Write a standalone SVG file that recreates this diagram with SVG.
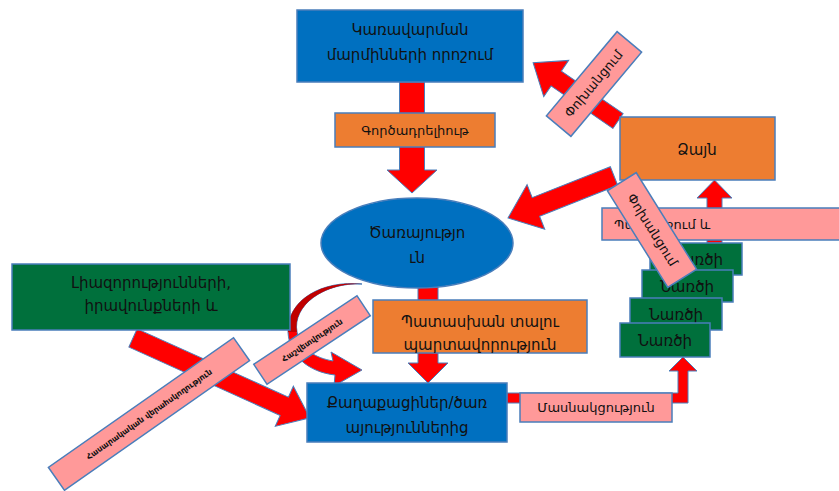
<svg xmlns="http://www.w3.org/2000/svg" width="839" height="491" viewBox="0 0 839 491">
<style>
.t{font-family:"DejaVu Sans","Noto Sans",sans-serif;font-size:15px;fill:#111;text-anchor:middle}
.s{font-size:13px}
.xs{font-size:8px;font-weight:bold}
.blue{fill:#0070C0;stroke:#4A7EBB;stroke-width:1.5}
.orange{fill:#ED7D31;stroke:#4A7EBB;stroke-width:1.5}
.green{fill:#00703C;stroke:#4A7EBB;stroke-width:1.5}
.pink{fill:#FF9999;stroke:#4A7EBB;stroke-width:1.5}
.arr{fill:#FF0000;stroke:#4A7EBB;stroke-width:1}
</style>
<rect width="839" height="491" fill="#fff"/>
<g id="connectors">
  <polygon class="arr" transform="translate(412,82) rotate(90)" points="0,-12.5 88,-12.5 88,-25 111,0 88,25 88,12.5 0,12.5"/>
  <polygon class="arr" transform="translate(614,176) rotate(158.4)" points="0,-10 84,-10 84,-24 114,0 84,24 84,10 0,10"/>
  <polygon class="arr" transform="translate(618,121) rotate(-145.5)" points="0,-9 75,-9 75,-22 103,0 75,22 75,9 0,9"/>
  <polygon class="arr" transform="translate(428,287) rotate(90)" points="0,-10 76,-10 76,-20 96,0 76,20 76,10 0,10"/>
  <polygon class="arr" transform="translate(133,338) rotate(24.3)" points="0,-10 166,-10 166,-22 194,0 166,22 166,10 0,10"/>
  <polygon class="arr" points="507,393 678,393 678,371 669,371 683,357 697,371 688,371 688,403 507,403"/>
  <polygon class="arr" points="707,243 707,198 697,198 714.5,180 732,198 722,198 722,243"/>
  <path d="M362,284 C325,282 292,305 297,332 C301,350 316,358 333,361 L331,352 L362,370 L334,386 L335,375 C308,372 289,355 288,332 C287,300 322,280 362,284 Z" fill="#FF0000" stroke="#4A7EBB" stroke-width="1"/>
  <path d="M362,284 C325,282 292,305 297,332 L288,332 C287,300 322,280 362,284 Z" fill="#C00000"/>
</g>
<g id="n-top">
  <rect class="blue" x="297" y="10" width="226" height="72"/>
  <text class="t" x="410" y="35">Կառավարման</text>
  <text class="t" x="410" y="60">մարմինների որոշում</text>
</g>
<g id="n-gorts">
  <rect class="orange" x="335" y="113" width="160" height="34"/>
  <text class="t s" x="415" y="135">Գործադրելիութ</text>
</g>
<g id="n-tsar">
  <ellipse class="blue" cx="417" cy="243" rx="96" ry="45"/>
  <text class="t" x="417" y="238">Ծառայությո</text>
  <text class="t" x="417" y="263">ւն</text>
</g>
<g id="n-dzayn">
  <rect class="orange" x="620" y="117" width="155" height="63"/>
  <text class="t" x="697" y="155">Ձայն</text>
</g>
<g id="n-pah">
  <rect class="pink" x="602" y="208" width="245" height="32"/>
  <text class="t s" x="614" y="229" style="text-anchor:start">Պահանջում և</text>
</g>
<g id="n-g1">
  <rect class="green" x="650" y="243" width="92" height="32"/>
  <text class="t" x="696" y="265">Նառծի</text>
</g>
<g id="n-g2">
  <rect class="green" x="642" y="270" width="91" height="32"/>
  <text class="t" x="687" y="292">Նառծի</text>
</g>
<g id="n-g3">
  <rect class="green" x="630" y="298" width="92" height="32"/>
  <text class="t" x="676" y="320">Նառծի</text>
</g>
<g id="n-g4">
  <rect class="green" x="620" y="323" width="90" height="34"/>
  <text class="t" x="665" y="346">Նառծի</text>
</g>
<g id="n-left">
  <rect class="green" x="12" y="264" width="278" height="66"/>
  <text class="t" x="151" y="288">Լիազորությունների,</text>
  <text class="t" x="151" y="311">իրավունքների և</text>
</g>
<g id="n-pat">
  <rect class="orange" x="373" y="300" width="214" height="53"/>
  <text class="t" x="480" y="327">Պատասխան տալու</text>
  <text class="t" x="480" y="350">պարտավորություն</text>
</g>
<g id="n-bottom">
  <rect class="blue" x="307" y="383" width="200" height="59"/>
  <text class="t" x="407" y="408">Քաղաքացիներ/ծառ</text>
  <text class="t" x="407" y="433">այություններից</text>
</g>
<g id="n-masn">
  <rect class="pink" x="520" y="393" width="152" height="29"/>
  <text class="t s" x="596" y="412">Մասնակցություն</text>
</g>
<g id="l-pox1" transform="translate(594,84) rotate(-50)">
  <rect class="pink" x="-55" y="-16" width="110" height="32"/>
  <text class="t s" x="0" y="4">Փոխանցում</text>
</g>
<g id="l-pox2" transform="translate(652,230) rotate(58)">
  <rect class="pink" x="-57" y="-17" width="114" height="34"/>
  <text class="t s" x="0" y="4">Փոխանցում</text>
</g>
<g id="l-hash" transform="translate(312,340) rotate(-33.6)">
  <rect class="pink" x="-62" y="-12" width="124" height="24"/>
  <text class="t xs" x="0" y="3">Հաշվետվություն</text>
</g>
<g id="l-has" transform="translate(149,414) rotate(-35)">
  <rect class="pink" x="-113" y="-14" width="226" height="28"/>
  <text class="t xs" x="0" y="3">Հասարակական վերահսկողություն</text>
</g>
</svg>
